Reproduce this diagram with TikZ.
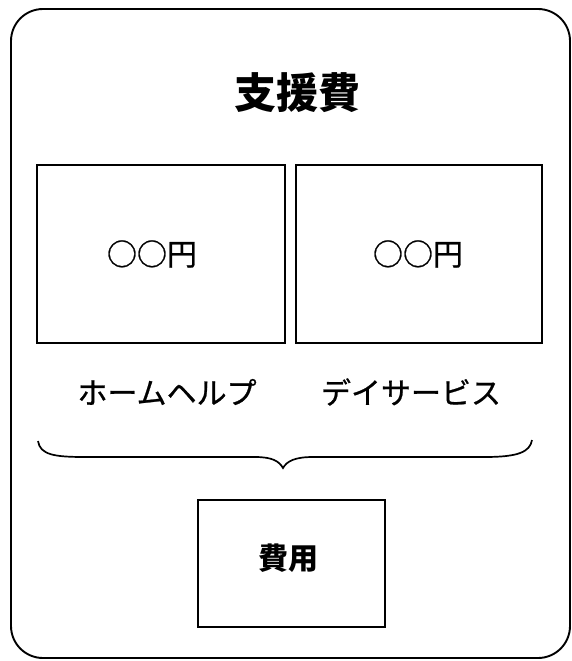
\documentclass[tikz,border=0pt]{standalone}
\usepackage{fontspec}
\newfontfamily\cjk{Noto Sans CJK JP}
\newfontface\cjkm{Noto Sans CJK JP}[RawFeature={embolden=0.8}]
\begin{document}
\begin{tikzpicture}[x=1pt,y=-1pt,
  frame/.style={draw=black,line width=1.9pt,rounded corners=32pt},
  box/.style={draw=black,line width=1.6pt,inner sep=0pt},
  txt/.style={font=\cjkm\fontsize{30}{36}\selectfont,inner sep=0pt},
  btxt/.style={font=\cjk\bfseries\fontsize{30}{36}\selectfont,inner sep=0pt},
  title/.style={font=\cjk\bfseries\fontsize{42}{50}\selectfont,inner sep=0pt},
  bracestyle/.style={draw=black,line width=1.7pt}]
\useasboundingbox (0,0) rectangle (572,661);
\fill[white] (0,0) rectangle (572,661);
\draw[frame] (11,9) rectangle (570,658);
\node[title] (ttl) at (297,93) {支援費};
\node[box,minimum width=248pt,minimum height=178pt] (lbox) at (161,254) {};
\node[box,minimum width=246pt,minimum height=178pt] (rbox) at (419,254) {};
\node[txt] (ltxt) at (152,254) {○○円};
\node[txt] (rtxt) at (418,254) {○○円};
\node[txt] (llab) at (167,392) {ホームヘルプ};
\node[txt] (rlab) at (411,392) {デイサービス};
\node[box,minimum width=187pt,minimum height=127pt] (bbox) at (291.5,563.5) {};
\node[btxt] (btx) at (288,558) {費用};
\coordinate (bl) at (38,441);
\coordinate (br) at (532,440);
\coordinate (tip) at (283,468);
\draw[bracestyle] (bl) .. controls (40,455) and (55,457) .. (85,457) -- (255,457)
  .. controls (272,457) and (279,461) .. (tip)
  .. controls (287,461) and (295,457) .. (313,457) -- (485,457)
  .. controls (518,457) and (530,452) .. (br);
\end{tikzpicture}
\end{document}
